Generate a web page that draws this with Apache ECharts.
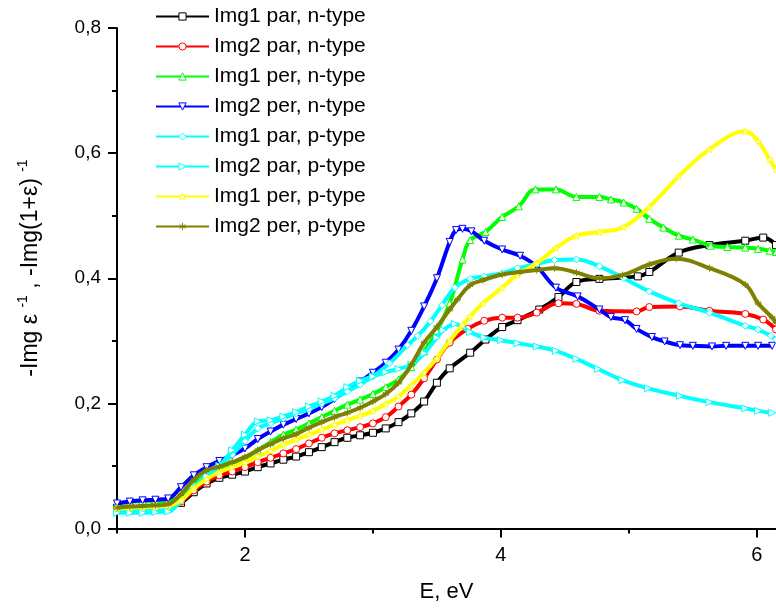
<!DOCTYPE html>
<html>
<head>
<meta charset="utf-8">
<script src="https://cdn.jsdelivr.net/npm/echarts@6/dist/echarts.min.js"></script>
<style>
  html, body { margin: 0; padding: 0; background: #fff; }
  #chart { width: 776px; height: 610px; }
</style>
</head>
<body>
<div id="chart"></div>
<script>
// 曲线数据：[E (eV), 值]
const img1ParN = [[1.0,0.033],[1.1,0.033],[1.2,0.034],[1.3,0.035],[1.4,0.036],[1.5,0.041],[1.6,0.058],[1.7,0.072],[1.8,0.081],[1.9,0.086],[2.0,0.091],[2.1,0.098],[2.2,0.104],[2.3,0.110],[2.4,0.115],[2.5,0.122],[2.6,0.130],[2.7,0.138],[2.8,0.145],[2.9,0.149],[3.0,0.153],[3.1,0.160],[3.2,0.170],[3.3,0.184],[3.4,0.203],[3.5,0.233],[3.6,0.256],[3.76,0.281],[3.88,0.302],[4.01,0.322],[4.13,0.333],[4.3,0.350],[4.45,0.370],[4.59,0.394],[4.77,0.399],[5.07,0.403],[5.16,0.410],[5.39,0.441],[5.63,0.453],[5.91,0.460],[6.05,0.465],[6.15,0.453]];
const img2ParN = [[1.0,0.033],[1.1,0.034],[1.2,0.034],[1.3,0.035],[1.4,0.036],[1.5,0.043],[1.6,0.061],[1.7,0.075],[1.8,0.085],[1.9,0.091],[2.0,0.098],[2.1,0.106],[2.2,0.113],[2.3,0.120],[2.4,0.127],[2.5,0.136],[2.6,0.145],[2.7,0.152],[2.8,0.157],[2.9,0.162],[3.0,0.168],[3.1,0.178],[3.2,0.195],[3.3,0.214],[3.4,0.240],[3.5,0.270],[3.6,0.297],[3.74,0.319],[3.87,0.332],[4.01,0.337],[4.13,0.337],[4.28,0.345],[4.45,0.360],[4.59,0.359],[4.77,0.348],[5.06,0.347],[5.16,0.354],[5.40,0.355],[5.63,0.348],[5.91,0.343],[6.05,0.334],[6.15,0.318]];
const img1PerN = [[1.0,0.040],[1.1,0.042],[1.2,0.044],[1.3,0.044],[1.4,0.044],[1.5,0.052],[1.6,0.070],[1.7,0.086],[1.8,0.096],[1.9,0.103],[2.0,0.112],[2.1,0.125],[2.2,0.138],[2.3,0.150],[2.4,0.158],[2.5,0.168],[2.6,0.178],[2.7,0.188],[2.8,0.198],[2.9,0.206],[3.0,0.215],[3.1,0.226],[3.2,0.238],[3.3,0.258],[3.4,0.283],[3.5,0.316],[3.6,0.360],[3.7,0.430],[3.76,0.461],[3.88,0.474],[4.01,0.498],[4.14,0.515],[4.27,0.542],[4.43,0.542],[4.59,0.530],[4.77,0.530],[4.86,0.526],[4.96,0.521],[5.06,0.511],[5.16,0.495],[5.27,0.481],[5.39,0.468],[5.50,0.462],[5.64,0.452],[5.77,0.450],[5.91,0.449],[6.01,0.447],[6.10,0.444],[6.15,0.442]];
const img2PerN = [[1.0,0.040],[1.1,0.043],[1.2,0.045],[1.3,0.046],[1.4,0.048],[1.5,0.066],[1.6,0.085],[1.7,0.098],[1.8,0.108],[1.9,0.117],[2.0,0.128],[2.1,0.143],[2.2,0.155],[2.3,0.166],[2.4,0.175],[2.5,0.184],[2.6,0.194],[2.7,0.207],[2.8,0.221],[2.9,0.235],[3.0,0.249],[3.1,0.265],[3.2,0.286],[3.3,0.316],[3.4,0.355],[3.5,0.400],[3.6,0.458],[3.65,0.477],[3.70,0.479],[3.77,0.475],[3.87,0.460],[4.01,0.446],[4.15,0.436],[4.28,0.419],[4.43,0.385],[4.60,0.371],[4.77,0.350],[4.86,0.338],[4.97,0.333],[5.06,0.319],[5.18,0.306],[5.28,0.299],[5.40,0.293],[5.50,0.292],[5.65,0.291],[5.76,0.292],[5.91,0.292],[6.01,0.292],[6.12,0.292]];
const img1ParP = [[1.0,0.030],[1.1,0.030],[1.2,0.031],[1.3,0.032],[1.4,0.033],[1.5,0.045],[1.6,0.066],[1.7,0.084],[1.8,0.099],[1.9,0.118],[2.0,0.140],[2.1,0.160],[2.2,0.168],[2.3,0.176],[2.4,0.184],[2.5,0.191],[2.6,0.200],[2.7,0.208],[2.8,0.219],[2.9,0.230],[3.0,0.243],[3.13,0.264],[3.27,0.293],[3.35,0.308],[3.45,0.331],[3.54,0.357],[3.64,0.385],[3.76,0.399],[3.87,0.403],[4.01,0.408],[4.13,0.416],[4.28,0.423],[4.42,0.429],[4.59,0.430],[4.77,0.419],[4.96,0.400],[5.16,0.379],[5.39,0.360],[5.63,0.345],[5.91,0.324],[6.01,0.318],[6.11,0.308],[6.15,0.302]];
const img2ParP = [[1.0,0.025],[1.1,0.025],[1.2,0.025],[1.3,0.026],[1.4,0.027],[1.5,0.045],[1.6,0.065],[1.7,0.084],[1.8,0.100],[1.9,0.125],[2.0,0.150],[2.1,0.171],[2.2,0.173],[2.3,0.179],[2.4,0.186],[2.5,0.195],[2.6,0.203],[2.7,0.212],[2.8,0.226],[2.9,0.236],[3.0,0.243],[3.1,0.250],[3.2,0.255],[3.3,0.262],[3.4,0.280],[3.5,0.305],[3.55,0.317],[3.64,0.327],[3.76,0.314],[3.87,0.305],[4.0,0.301],[4.13,0.296],[4.28,0.291],[4.43,0.284],[4.59,0.271],[4.76,0.255],[4.95,0.237],[5.15,0.224],[5.4,0.212],[5.63,0.202],[5.91,0.192],[6.01,0.188],[6.12,0.185]];
const img1PerP = [[1.0,0.032],[1.1,0.033],[1.2,0.034],[1.3,0.035],[1.4,0.036],[1.5,0.045],[1.6,0.064],[1.7,0.079],[1.8,0.090],[1.9,0.098],[2.0,0.106],[2.1,0.115],[2.2,0.124],[2.3,0.134],[2.4,0.142],[2.5,0.150],[2.6,0.158],[2.7,0.166],[2.8,0.173],[2.9,0.180],[3.0,0.188],[3.1,0.199],[3.2,0.211],[3.3,0.229],[3.4,0.249],[3.5,0.272],[3.6,0.300],[3.7,0.325],[3.76,0.339],[3.86,0.360],[4.01,0.385],[4.13,0.406],[4.28,0.424],[4.43,0.448],[4.59,0.468],[4.77,0.474],[4.96,0.482],[5.16,0.514],[5.39,0.563],[5.63,0.606],[5.91,0.635],[6.01,0.619],[6.10,0.590],[6.15,0.574]];
const img2PerP = [[1.0,0.033],[1.1,0.035],[1.2,0.036],[1.3,0.037],[1.4,0.039],[1.5,0.055],[1.6,0.078],[1.7,0.093],[1.8,0.099],[1.9,0.106],[2.0,0.114],[2.1,0.125],[2.2,0.135],[2.3,0.144],[2.4,0.151],[2.5,0.161],[2.6,0.170],[2.7,0.178],[2.8,0.185],[2.9,0.193],[3.0,0.203],[3.1,0.215],[3.2,0.233],[3.3,0.262],[3.4,0.297],[3.5,0.322],[3.6,0.350],[3.66,0.366],[3.76,0.389],[3.86,0.397],[4.01,0.406],[4.15,0.410],[4.28,0.413],[4.42,0.416],[4.59,0.409],[4.77,0.400],[4.95,0.405],[5.16,0.422],[5.37,0.431],[5.63,0.416],[5.91,0.390],[6.01,0.360],[6.12,0.337],[6.15,0.329]];

const seriesNames = [
  "Img1 par, n-type", "Img2 par, n-type", "Img1 per, n-type", "Img2 per, n-type",
  "Img1 par, p-type", "Img2 par, p-type", "Img1 per, p-type", "Img2 per, p-type",
];
const seriesData = [img1ParN, img2ParN, img1PerN, img2PerN, img1ParP, img2ParP, img1PerP, img2PerP];
const xMajorTicks = [2, 4, 6];
const xMinorTicks = [1, 3, 5];

const COLORS = ["#000000", "#ff0000", "#00ff00", "#0000ff", "#00ffff", "#00ffff", "#ffff00", "#808000"];
const STAR = "path://M50,0 L61,35 L98,35 L68,57 L79,91 L50,70 L21,91 L32,57 L2,35 L39,35 Z";
const ASTERISK = "path://M50,0 L50,100 M7,25 L93,75 M7,75 L93,25 M0,50 L100,50";
const SYMBOLS = [
  { symbol: "rect", rotate: 0 },
  { symbol: "circle", rotate: 0 },
  { symbol: "triangle", rotate: 0 },
  { symbol: "triangle", rotate: 180 },
  { symbol: "diamond", rotate: 0 },
  { symbol: "triangle", rotate: -90 },
  { symbol: STAR, rotate: 0 },
  { symbol: ASTERISK, rotate: 0 },
];
const FONT = 'Arial, "Liberation Sans", sans-serif';

const chart = echarts.init(document.getElementById("chart"), null, { renderer: "canvas" });

const series = seriesNames.map((name, i) => ({
  name,
  type: "line",
  data: seriesData[i],
  smooth: 0.4,
  symbol: SYMBOLS[i].symbol,
  symbolRotate: SYMBOLS[i].rotate,
  symbolSize: 7,
  showAllSymbol: true,
  lineStyle: { color: COLORS[i], width: 4 },
  itemStyle: { color: "#ffffff", borderColor: COLORS[i], borderWidth: 1 },
  emphasis: { disabled: true },
  z: 2 + i,
}));

chart.setOption({
  animation: false,
  backgroundColor: "#ffffff",
  grid: { left: 117, right: 0, top: 28, bottom: 81.5 },
  legend: {
    orient: "vertical",
    left: 150,
    top: 1,
    itemWidth: 53,
    itemHeight: 9,
    itemGap: 9,
    data: seriesNames,
    itemStyle: { color: "#ffffff", borderWidth: 1 },
    textStyle: { fontFamily: FONT, fontSize: 21, lineHeight: 21, color: "#000" },
  },
  xAxis: [
    {
      type: "value",
      min: 1,
      max: 6.15,
      name: "E, eV",
      nameLocation: "middle",
      nameGap: 52,
      nameTextStyle: { fontFamily: FONT, fontSize: 22, color: "#000" },
      axisLine: { show: true, lineStyle: { color: "#000", width: 2 } },
      axisTick: { show: true, customValues: xMajorTicks, length: 9, inside: false, lineStyle: { color: "#000", width: 2 } },
      axisLabel: { show: true, customValues: xMajorTicks, margin: 17, fontFamily: FONT, fontSize: 20, color: "#000" },
      splitLine: { show: false },
    },
    {
      type: "value",
      min: 1,
      max: 6.15,
      position: "bottom",
      axisLine: { show: false },
      axisTick: { show: true, customValues: xMinorTicks, length: 5, lineStyle: { color: "#000", width: 2 } },
      axisLabel: { show: false },
      splitLine: { show: false },
    },
  ],
  yAxis: {
    type: "value",
    min: 0,
    max: 0.8,
    interval: 0.2,
    axisLine: { show: true, lineStyle: { color: "#000", width: 2 } },
    axisTick: { show: true, length: 9, lineStyle: { color: "#000", width: 2 } },
    minorTick: { show: true, splitNumber: 2, length: 5, lineStyle: { color: "#000", width: 2 } },
    axisLabel: {
      margin: 16,
      fontFamily: FONT,
      fontSize: 19,
      color: "#000",
      formatter: (v) => v.toFixed(1).replace(".", ","),
    },
    splitLine: { show: false },
  },
  graphic: [
    {
      type: "text",
      x: 31,
      y: 268,
      rotation: Math.PI / 2,
      style: {
        text: "-Img ε {sup|-1} , -Img(1+ε) {sup|-1}",
        fontFamily: FONT,
        fontSize: 23,
        lineHeight: 30,
        fill: "#000",
        align: "center",
        verticalAlign: "middle",
        rich: { sup: { fontFamily: FONT, fontSize: 14, lineHeight: 14, verticalAlign: "top" } },
      },
    },
  ],
  series,
});
</script>
</body>
</html>
